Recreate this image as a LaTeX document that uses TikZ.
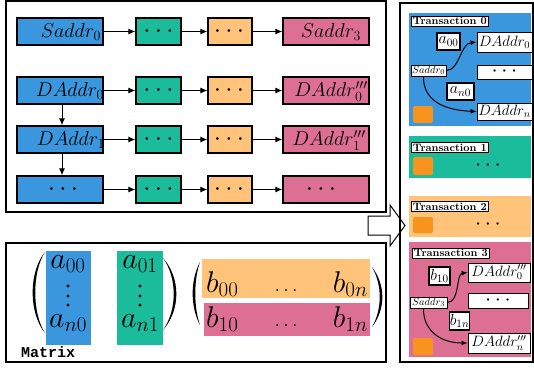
\RequirePackage{fix-cm}
\documentclass[tikz,border=0pt]{standalone}
\usepackage{fontspec}
\newfontfamily\monob{Liberation Mono}
\usetikzlibrary{arrows.meta}
\newcommand{\setfs}[1]{\fontsize{#1}{#1}\selectfont}
\definecolor{cblue}{RGB}{58,150,221}
\definecolor{cgreen}{RGB}{26,188,156}
\definecolor{corange}{RGB}{255,196,122}
\definecolor{cpink}{RGB}{222,111,148}
\definecolor{cicon}{RGB}{247,148,30}
\begin{document}
\begin{tikzpicture}[x=1pt,y=-1pt,
  cell/.style={draw, line width=1.2pt, minimum height=27pt, inner sep=0pt},
  mtxt/.style={font=\setfs{20}, inner sep=0pt, anchor=base},
  dtxt/.style={font=\setfs{26}, inner sep=0pt},
  arr/.style={line width=1pt, -{Latex[length=7pt,width=6pt]}},
  carr/.style={line width=1pt, -{Latex[length=6pt,width=5pt]}},
  panel/.style={draw, line width=1.2pt},
  tlabel/.style={draw, fill=white, line width=0.8pt, font=\setfs{10.8}\bfseries, inner xsep=1.5pt, inner ysep=1.2pt, anchor=west},
  sbox/.style={draw, fill=white, line width=0.7pt, inner sep=0pt, font=\setfs{15}},
  abox/.style={draw, fill=white, line width=1.4pt, inner sep=0pt, font=\setfs{16}},
  tiny/.style={draw, fill=white, line width=0.7pt, inner sep=0pt, font=\setfs{10.5}},
  big/.style={font=\setfs{30}, inner sep=0pt, anchor=base},
  icon/.style={fill=cicon, rounded corners=2pt}
]
\useasboundingbox (0,0) rectangle (534,367);

% ---------- top-left panel ----------
\draw[panel] (6,1) rectangle (386,212);

\foreach \r/\y in {s/31.5, d/90.5, e/139.5, f/189.5}{
  \node[cell, fill=cblue,   minimum width=86pt] (\r0) at (60,\y) {};
  \node[cell, fill=cgreen,  minimum width=45pt] (\r1) at (158.5,\y) {};
  \node[cell, fill=corange, minimum width=44pt] (\r2) at (230,\y) {};
  \node[cell, fill=cpink,   minimum width=86pt] (\r3) at (326,\y) {};
  \draw[arr] (\r0) -- (\r1);
  \draw[arr] (\r1) -- (\r2);
  \draw[arr] (\r2) -- (\r3);
  \node[dtxt] (\r1t) at (\r1.center) {$\cdots$};
  \node[dtxt] (\r2t) at (229,\y) {$\cdots$};
}
\node[mtxt] (s0t) at (71,37.5) {$Saddr_0$};
\node[mtxt] (s3t) at (331,37.5) {$Saddr_3$};
\node[mtxt] (d0t) at (70,96.5) {$DAddr_0$};
\node[mtxt] (d3t) at (331,96.5) {$DAddr_0'''$};
\node[mtxt] (e0t) at (71,145.5) {$DAddr_1$};
\node[mtxt] (e3t) at (329,145.5) {$DAddr_1'''$};
\node[dtxt] (f0t) at (63,189.5) {$\cdots$};
\node[dtxt] (f3t) at (321,189.5) {$\cdots$};
\draw[arr] ([xshift=2pt]d0.south) -- ([xshift=2pt]e0.north);
\draw[arr] ([xshift=2pt]e0.south) -- ([xshift=2pt]f0.north);

% ---------- bottom panel (matrix) ----------
\draw[panel] (6,243) rectangle (386,362);
\fill[cblue] (46,251) rectangle (91,345);
\fill[cgreen] (117,251) rectangle (163,345);
\fill[corange] (202,259) rectangle (370,298);
\fill[cpink] (204,303) rectangle (370,336);
% parentheses
\fill (45,252) .. controls (28.5,272) and (28.5,313) .. (45,333) .. controls (32,313) and (32,272) .. (45,252) -- cycle;
\fill (163,258) .. controls (180.8,278) and (180.8,310) .. (163,330) .. controls (177.3,310) and (177.3,278) .. (163,258) -- cycle;
\fill (200,262) .. controls (190.2,280) and (190.2,307) .. (200,325) .. controls (193.7,307) and (193.7,280) .. (200,262) -- cycle;
\fill (372,267) .. controls (385.8,285) and (385.8,309) .. (372,327) .. controls (382.3,309) and (382.3,285) .. (372,267) -- cycle;
\node[big] (a00) at (68,268) {$a_{00}$};
\node[big] (an0) at (68,327) {$a_{n0}$};
\node[big] (a01) at (140,268) {$a_{01}$};
\node[big] (an1) at (140,327) {$a_{n1}$};
\foreach \xx in {68,140}{
  \foreach \yy in {286,296,305}{ \fill (\xx,\yy) circle (1.6pt); }
}
\node[big, anchor=base west] (b00) at (206,292) {$b_{00}$};
\node[big, anchor=base east] (b0n) at (368,292) {$b_{0n}$};
\node[big, anchor=base west] (b10) at (206,327) {$b_{10}$};
\node[big, anchor=base east] (b1n) at (368,327) {$b_{1n}$};
\node[mtxt] (bd0) at (286,291) {$\ldots$};
\node[mtxt] (bd1) at (286,326) {$\ldots$};
\node[inner sep=0pt, anchor=base west, font=\setfs{15}\monob\bfseries] (mlab) at (21,357.5) {Matrix};

% ---------- block arrow ----------
\draw[line width=1pt, fill=white] (368,216) -- (390,216) -- (390,205) -- (405,225.5) -- (390,246) -- (390,235) -- (368,235) -- cycle;

% ---------- right panel ----------
\fill[cblue] (409,13) rectangle (531,126);
\fill[cgreen] (409,136) rectangle (531,178);
\fill[corange] (409,196) rectangle (531,237);
\fill[cpink] (409,242) rectangle (531,357);
\draw[line width=2pt] (400,3) rectangle (533,362);

% Transaction 0
\node[tlabel] (t0l) at (411,21) {Transaction 0};
\node[abox, minimum width=23pt, minimum height=17pt] (t0a) at (448.5,41.5) {$a_{00}$};
\node[sbox, minimum width=55pt, minimum height=20pt] (t0d0) at (504.5,42) {$DAddr_0$};
\node[tiny, minimum width=35pt, minimum height=11pt] (t0s) at (428.5,70.5) {$Saddr_0$};
\node[sbox, minimum width=55pt, minimum height=14pt, font=\setfs{22}] (t0dots) at (504.5,72) {$\cdots$};
\node[abox, minimum width=27pt, minimum height=17pt] (t0an) at (460.5,91.5) {$a_{n0}$};
\node[sbox, minimum width=55pt, minimum height=17pt] (t0dn) at (504.5,111.5) {$DAddr_n$};
\fill[icon] (413,106) rectangle (433,123);
\draw[carr] (t0s.east) .. controls (460,70) and (460,44) .. (t0d0.west);
\draw[carr] ([xshift=-5pt]t0s.south) .. controls (423,98) and (440,110) .. (t0dn.west);

% Transaction 1
\node[tlabel] (t1l) at (411,147.5) {Transaction 1};
\fill[icon] (413,157) rectangle (433,175);
\node[dtxt, font=\setfs{22}] (t1d) at (488,166) {$\cdots$};

% Transaction 2
\node[tlabel] (t2l) at (411,206.5) {Transaction 2};
\fill[icon] (413,217) rectangle (433,233);
\node[dtxt, font=\setfs{22}] (t2d) at (488,225) {$\cdots$};

% Transaction 3
\node[tlabel] (t3l) at (412,253) {Transaction 3};
\node[abox, minimum width=21pt, minimum height=18pt] (t3b) at (439.5,276) {$b_{10}$};
\node[sbox, minimum width=62pt, minimum height=19pt] (t3d0) at (499,272.5) {$DAddr_0'''$};
\node[tiny, minimum width=37pt, minimum height=11pt] (t3s) at (428.5,302.5) {$Saddr_3$};
\node[sbox, minimum width=60pt, minimum height=15pt, font=\setfs{22}] (t3dots) at (498,300.5) {$\cdots$};
\node[abox, minimum width=19pt, minimum height=18pt] (t3bn) at (459.5,321) {$b_{1n}$};
\node[sbox, minimum width=62pt, minimum height=20pt] (t3dn) at (499,343) {$DAddr_n'''$};
\fill[icon] (413,338) rectangle (433,355);
\draw[carr] (t3s.east) .. controls (460,302) and (456,274) .. (t3d0.west);
\draw[carr] ([xshift=-5pt]t3s.south) .. controls (423,330) and (440,343) .. (t3dn.west);
\end{tikzpicture}
\end{document}
